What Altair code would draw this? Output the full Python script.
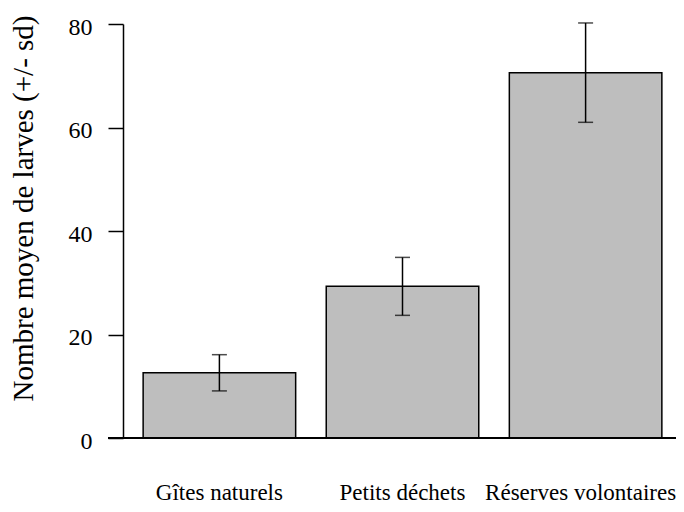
import altair as alt
import pandas as pd

categories = ["Gîtes naturels", "Petits déchets", "Réserves volontaires"]
means = [12.6, 29.3, 70.6]
sds = [3.5, 5.6, 9.6]
y_ticks = [0, 20, 40, 60, 80]

df = pd.DataFrame({"cat": categories, "mean": means, "sd": sds})
df["lo"] = df["mean"] - df["sd"]
df["hi"] = df["mean"] + df["sd"]

FONT = "Liberation Serif"
W, H = 553, 414
XRANGE = 559

yscale = alt.Scale(domain=[0, 80], nice=False, zero=True)

base = alt.Chart(df).encode(
    x=alt.X(
        "cat:N",
        sort=categories,
        scale=alt.Scale(paddingInner=0.167, paddingOuter=0.11, range=[0, XRANGE]),
        axis=alt.Axis(
            title=None, labelAngle=0, domain=False, ticks=False,
            labelFont=FONT, labelFontSize=23, labelColor="black",
            labelPadding=61, labelBaseline="alphabetic", labelLimit=0,
            labelOffset={"condition": {"test": "datum.value === 'Réserves volontaires'", "value": -5}, "value": 0},
        ),
    )
)

bars = base.mark_bar(color="#BEBEBE", stroke="black", strokeWidth=1.5).encode(
    y=alt.Y(
        "mean:Q",
        scale=yscale,
        axis=alt.Axis(
            title="Nombre moyen de larves (+/- sd)",
            values=y_ticks, grid=False, tickSize=15, tickWidth=1.5,
            tickColor="black", domainColor="black", domainWidth=1.5,
            labelFont=FONT, labelFontSize=24, labelColor="black",
            labelPadding=16, labelOffset=3,
            titleFont=FONT, titleFontSize=29,
            titleFontWeight="normal", titleColor="black",
            titleX=-100, titleY=184, titleAlign="center", titleBaseline="middle",
            titleAngle=270,
        ),
    )
)

rule = base.mark_rule(color="black", strokeWidth=1.5).encode(
    y=alt.Y("lo:Q", scale=yscale), y2="hi:Q"
)
cap_lo = base.mark_tick(color="black", thickness=1.5, size=15, orient="horizontal").encode(
    y=alt.Y("lo:Q", scale=yscale)
)
cap_hi = base.mark_tick(color="black", thickness=1.5, size=15, orient="horizontal").encode(
    y=alt.Y("hi:Q", scale=yscale)
)
baseline = alt.Chart(df).mark_rule(color="black", strokeWidth=2).encode(
    x=alt.value(-15), x2=alt.value(XRANGE), y=alt.value(H)
)

chart = (
    alt.layer(bars, rule, cap_lo, cap_hi, baseline)
    .properties(width=W, height=H, padding={"left": 115, "top": 16, "right": 0, "bottom": 66}, autosize="none")
    .configure_view(stroke=None)
)

chart.save("out.html", embed_options={"renderer": "svg", "actions": False})
